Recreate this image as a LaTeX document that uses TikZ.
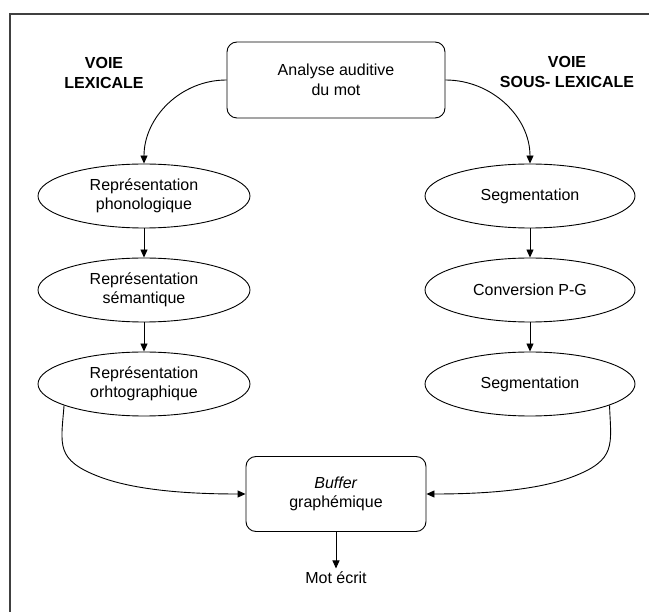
\documentclass[tikz,border=0pt]{standalone}
\usepackage{fontspec}
\setmainfont{Liberation Sans}
\usetikzlibrary{shapes.geometric,arrows.meta}
\begin{document}
\begin{tikzpicture}[x=1pt,y=-1pt,
  every node/.style={font=\fontsize{16}{19.5}\selectfont, align=center},
  box/.style={draw, rounded corners=10pt, line width=0.9pt, inner sep=0pt},
  ell/.style={draw, ellipse, line width=0.9pt, minimum width=212pt, minimum height=64pt, inner sep=0pt},
  titre/.style={font=\bfseries\fontsize{16}{20}\selectfont},
  arr/.style={line width=0.9pt, -{Triangle[length=8pt,width=7pt]}},
  cadre/.style={line width=1.6pt, draw=black!75}]
\useasboundingbox (0,0) rectangle (649,612);
% frame
\draw[cadre] (10,612) -- (10,14) -- (649,14);
% titles
\node[titre] (vl) at (104,73) {VOIE\\LEXICALE};
\node[titre] (vsl) at (567,72) {VOIE\\SOUS- LEXICALE};
% top box
\node[box, minimum width=218pt, minimum height=76pt] (top) at (336,80) {Analyse auditive\\du mot};
% left column
\node[ell] (l1) at (144,196) {Représentation\\phonologique};
\node[ell] (l2) at (144,290) {Représentation\\sémantique};
\node[ell] (l3) at (144,384) {Représentation\\orhtographique};
% right column
\node[ell, minimum width=210pt] (r1) at (530,196) {Segmentation};
\node[ell, minimum width=210pt] (r2) at (530,290) {Conversion P-G};
\node[ell, minimum width=210pt] (r3) at (530,384) {Segmentation};
% buffer
\node[box, minimum width=180pt, minimum height=75pt] (buf) at (336,494) {\textit{Buffer}\\graphémique};
\node (mot) at (336,578) {Mot écrit};
% connectors
\draw[arr] (top.west) to[out=180,in=90] (l1.north);
\draw[arr] (top.east) to[out=0,in=90] (r1.north);
\draw[arr] (l1) -- (l2);
\draw[arr] (l2) -- (l3);
\draw[arr] (r1) -- (r2);
\draw[arr] (r2) -- (r3);
\draw[arr] (l3.195) .. controls (61,445) and (55,460) .. (100,477) .. controls (140,492) and (200,494) .. (buf.west);
\draw[arr] (r3.-15) .. controls (611,445) and (617,460) .. (572,477) .. controls (532,492) and (472,494) .. (buf.east);
\draw[arr] (buf.south) -- (buf.south |- mot.north);
\end{tikzpicture}
\end{document}
